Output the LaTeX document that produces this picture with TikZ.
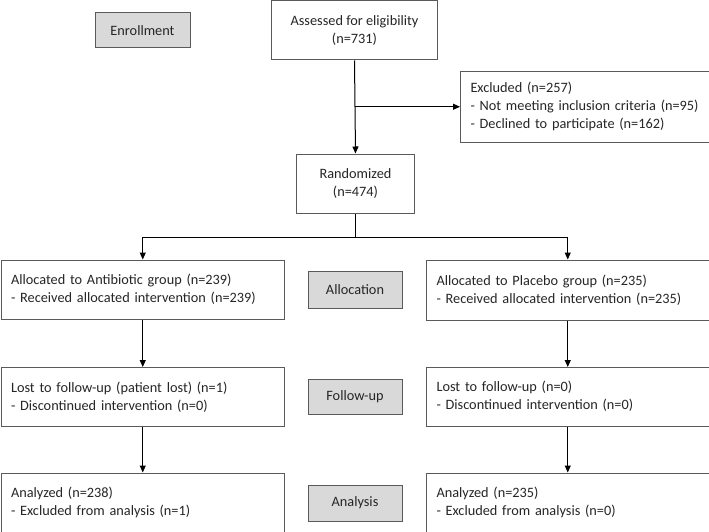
\documentclass[tikz,border=0pt]{standalone}
\usepackage{fontspec}
\setmainfont{Carlito}
\usetikzlibrary{arrows.meta}
\definecolor{boxline}{HTML}{5A5A5A}
\definecolor{stagefill}{HTML}{D9D9D9}
\tikzset{
  txt/.style={font=\fontsize{14.3pt}{18pt}\selectfont, text=black!85},
  flowbox/.style={txt, draw=boxline, line width=1pt, fill=white, inner sep=0pt, anchor=north west, align=center},
  leftbox/.style={flowbox, align=left, inner xsep=10pt, inner ysep=0pt},
  stagebox/.style={txt, draw=boxline, line width=1pt, fill=stagefill, inner sep=0pt, anchor=north west, minimum width=94pt},
  conn/.style={draw=black, line width=1pt, -{Triangle[length=7pt,width=6pt]}},
  plain/.style={draw=black, line width=1pt},
}
\begin{document}
\begin{tikzpicture}[x=1pt,y=-1pt]
\useasboundingbox (0,0) rectangle (709,532);
% stage labels
\node[stagebox, minimum height=35pt, minimum width=95pt] (enr) at (94.5,12.5) {Enrollment};
\node[stagebox, minimum height=36.5pt] (alS) at (307.5,271) {Allocation};
\node[stagebox, minimum height=35.5pt] (fuS) at (307.5,378.5) {Follow-up};
\node[stagebox, minimum height=36pt] (anS) at (307.5,484.5) {Analysis};
% flow boxes
\node[flowbox, minimum width=166pt, minimum height=59pt] (ass) at (271,0.5) {Assessed for eligibility\\(n=731)};
\node[leftbox, text width=228.5pt, minimum height=70.5pt] (exc) at (460,71) {Excluded (n=257)\\- Not meeting inclusion criteria (n=95)\\- Declined to participate (n=162)};
\node[flowbox, minimum width=118pt, minimum height=59pt] (ran) at (296,153.5) {Randomized\\(n=474)};
\node[leftbox, text width=263.5pt, minimum height=59.5pt] (alA) at (0.5,259.5) {Allocated to Antibiotic group (n=239)\\- Received allocated intervention (n=239)};
\node[leftbox, text width=262.5pt, minimum height=60pt] (alP) at (426,259.5) {Allocated to Placebo group (n=235)\\- Received allocated intervention (n=235)};
\node[leftbox, text width=263.5pt, minimum height=59pt] (fuA) at (0.5,367) {Lost to follow-up (patient lost) (n=1)\\- Discontinued intervention (n=0)};
\node[leftbox, text width=262.5pt, minimum height=58.5pt] (fuP) at (426,367) {Lost to follow-up (n=0)\\- Discontinued intervention (n=0)};
\node[leftbox, text width=263.5pt, minimum height=59pt] (anA) at (0.5,472.5) {Analyzed (n=238)\\- Excluded from analysis (n=1)};
\node[leftbox, text width=262.5pt, minimum height=59pt] (anP) at (426,472.5) {Analyzed (n=235)\\- Excluded from analysis (n=0)};
% connectors
\draw[conn] (ass.south) -- (ran.north);
\coordinate (j1) at (ass.south |- exc.west);
\draw[conn] (j1) -- (exc.west);
\draw[plain] (ran.south) -- ++(0,23.5) coordinate (j2);
\draw[conn] (j2) -| (alA.north);
\draw[conn] (j2) -| (alP.north);
\draw[conn] (alA.south) -- (fuA.north);
\draw[conn] (alP.south) -- (fuP.north);
\draw[conn] (fuA.south) -- (anA.north);
\draw[conn] (fuP.south) -- (anP.north);
\end{tikzpicture}
\end{document}
